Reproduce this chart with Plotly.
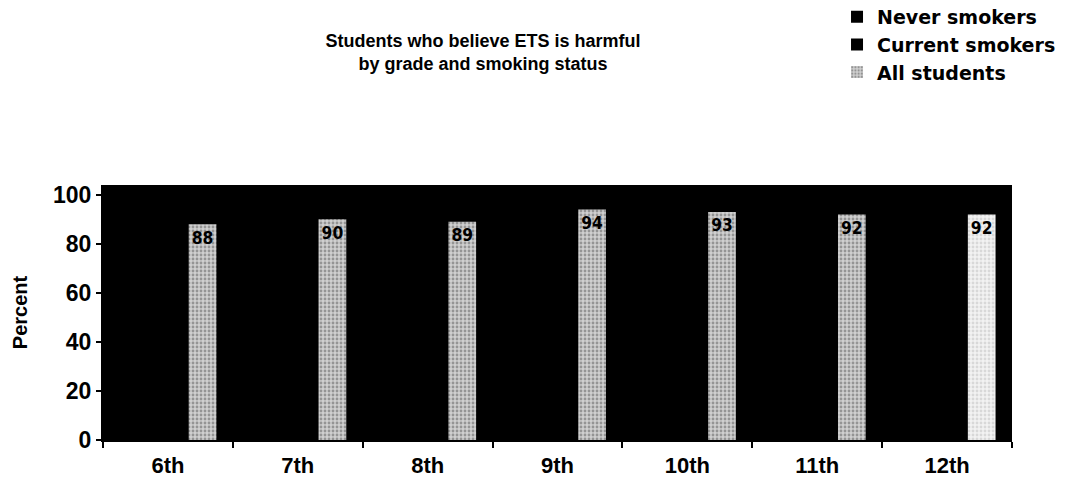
import plotly.graph_objects as go

grades = ["6th", "7th", "8th", "9th", "10th", "11th", "12th"]
never_smokers = [89, 92, 92, 96, 96, 95, 95]
current_smokers = [78, 80, 79, 86, 85, 85, 86]
all_students = [88, 90, 89, 94, 93, 92, 92]
y_ticks = [0, 20, 40, 60, 80, 100]

FONT = "Liberation Sans, Arial, sans-serif"
WIDE = "DejaVu Sans, Verdana, sans-serif"
NARROW = "Liberation Sans Narrow, DejaVu Sans Condensed, Arial Narrow, Liberation Sans, sans-serif"

# texture of the "All students" bars (last bar printed lighter)
bar_bg = ["#cfcfcf"] * 6 + ["#f2f2f2"]
bar_fg = ["#5a5a5a"] * 6 + ["#bdbdbd"]

fig = go.Figure()
fig.add_trace(go.Bar(name="Never smokers", x=grades, y=never_smokers, legendgroup="a",
                     marker=dict(color="black", line=dict(width=0))))
fig.add_trace(go.Bar(name="Current smokers", x=grades, y=current_smokers, legendgroup="b",
                     marker=dict(color="black", line=dict(width=0))))
fig.add_trace(go.Bar(
    name="All students", x=grades, y=all_students, legendgroup="c",
    text=[str(v) for v in all_students],
    textposition="inside", insidetextanchor="end", textangle=0,
    textfont=dict(family=NARROW, size=18, color="black", weight="bold"),
    marker=dict(color="#d4d4d4", line=dict(width=0),
                pattern=dict(shape=".", fgcolor=bar_fg, bgcolor=bar_bg,
                             size=4, solidity=0.4)),
))

fig.update_layout(
    width=1071, height=481,
    paper_bgcolor="white", plot_bgcolor="black",
    margin=dict(l=103, r=59, t=185, b=41, autoexpand=False),
    barmode="group", bargap=0.2, bargroupgap=0.2,
    font=dict(family=FONT, color="black"),
    title=dict(text="<b>Students who believe ETS is harmful<br>by grade and smoking status</b>",
               x=0.451, xanchor="center", y=0.903, yanchor="top",
               font=dict(family=FONT, size=18, color="black")),
    legend=dict(x=0.8075, xanchor="left", y=1.734, yanchor="top",
                font=dict(family=WIDE, size=19, color="black", weight="bold"),
                bgcolor="rgba(0,0,0,0)", traceorder="grouped", tracegroupgap=0,
                itemwidth=30),
    showlegend=True,
    uniformtext=dict(minsize=10, mode="show"),
)
fig.update_xaxes(showgrid=False, showline=True, linecolor="black", linewidth=2,
                 automargin=False,
                 ticks="outside", tickson="boundaries", ticklen=6, tickcolor="black",
                 tickwidth=2, ticklabelstandoff=5,
                 tickfont=dict(family=FONT, size=22, color="black", weight="bold"))
fig.update_yaxes(range=[0, 104], tickvals=y_ticks, showgrid=False, zeroline=False,
                 showline=True, linecolor="black", linewidth=2, automargin=False,
                 ticks="outside", ticklen=5, tickcolor="black", tickwidth=2,
                 tickfont=dict(family=FONT, size=23, color="black", weight="bold"),
                 title=dict(text="<b>Percent</b>", standoff=20,
                            font=dict(family=FONT, size=20, color="black")))

fig.write_html("out.html")
